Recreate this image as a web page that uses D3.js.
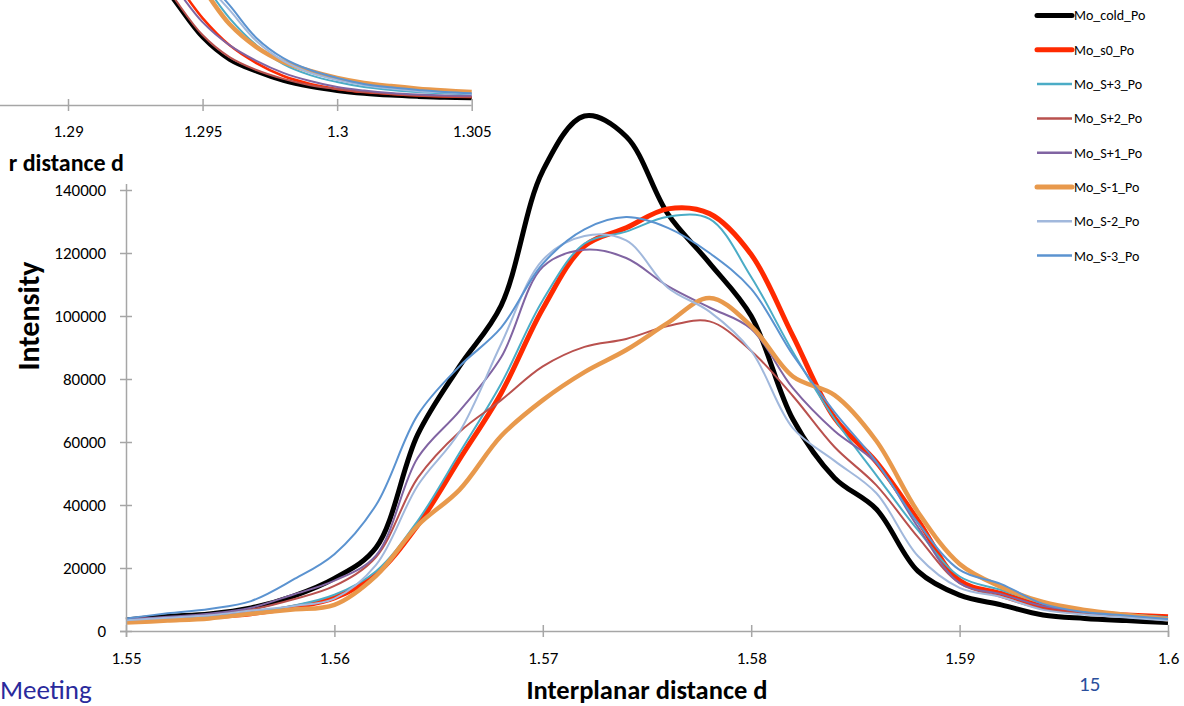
<!DOCTYPE html>
<html>
<head>
<meta charset="utf-8">
<script src="https://d3js.org/d3.v7.min.js"></script>
<style>
	html, body { margin: 0; padding: 0; background: #fff; }
	svg { display: block; font-family: Carlito, Lato, sans-serif; }
</style>
</head>
<body>
<svg id="chart" width="1184" height="706"></svg>
<script>
// Main chart: interplanar distance grid and intensities per series
const dMain = [1.550, 1.552, 1.554, 1.556, 1.558, 1.560, 1.562, 1.564, 1.566, 1.568, 1.570, 1.572, 1.574,
	1.576, 1.578, 1.580, 1.582, 1.584, 1.586, 1.588, 1.590, 1.592, 1.594, 1.596, 1.598, 1.600];

const coldPo = [3500, 4600, 5400, 7300, 11000, 16700, 26500, 62400, 84000, 103300, 146100, 163500, 157000,
	132400, 116800, 100000, 67200, 48600, 38700, 19000, 11400, 8300, 5100, 4000, 3300, 2700];
const s0Po = [3300, 3800, 4500, 5500, 7500, 10500, 18000, 33600, 54500, 75500, 102300, 122200, 128000,
	134000, 132500, 119500, 93700, 67600, 53700, 35200, 16000, 11900, 7900, 5900, 5100, 4500];
const sPlus3Po = [3600, 4100, 4800, 5800, 8000, 11500, 19000, 35000, 56500, 78500, 105000, 123000, 126800,
	131500, 130800, 112400, 88600, 67300, 49500, 32000, 17300, 13000, 8900, 6700, 5400, 4400];
const sPlus2Po = [3500, 4200, 5100, 6800, 10000, 14300, 23500, 48600, 63200, 73300, 84000, 90200, 92700,
	96800, 98300, 88900, 74600, 58400, 46300, 29800, 15200, 10800, 7000, 5600, 4600, 3700];
const sPlus1Po = [3700, 4500, 5500, 7400, 11500, 16000, 24000, 55000, 69800, 86900, 115600, 121000, 118400,
	109500, 102700, 95900, 77100, 63500, 53300, 33000, 15200, 11700, 7900, 6200, 4900, 3500];
const sMinus1Po = [2700, 3300, 4000, 5500, 6800, 8300, 17500, 33500, 44800, 61900, 73300, 82200, 89200,
	97800, 105700, 96800, 80800, 74900, 60400, 37800, 21300, 14000, 9200, 6700, 5100, 3700];
const sMinus2Po = [3400, 4200, 5000, 6500, 7900, 10300, 21000, 46200, 63200, 91100, 117800, 125400, 124000,
	109000, 101400, 88900, 64400, 54000, 43800, 23800, 13700, 10800, 6700, 5200, 4300, 3300];
const sMinus3Po = [4000, 5600, 7000, 9500, 16200, 24400, 40000, 68600, 84000, 96300, 116600, 127500, 131400,
	128000, 120000, 108600, 87600, 69500, 53700, 34300, 19400, 14900, 8600, 6000, 4900, 3800];

// Inset chart (the tail of the neighbouring peak)
const dInset = [1.293, 1.294, 1.295, 1.296, 1.297, 1.298, 1.299, 1.300, 1.301, 1.302, 1.303, 1.304, 1.305];

const coldInset = [44400, 32400, 21300, 14300, 10500, 7600, 5700, 4400, 3500, 2900, 2500, 2200, 2100];
const s0Inset = [49200, 39000, 27600, 19000, 13300, 9200, 6700, 5100, 4100, 3500, 3000, 2700, 2500];
const sPlus3Inset = [60300, 49200, 39000, 27600, 19000, 13000, 9500, 7300, 5700, 4800, 4100, 3700, 3300];
const sPlus2Inset = [46000, 33300, 22200, 15200, 11100, 8300, 6300, 5100, 4100, 3500, 3000, 2700, 2500];
const sPlus1Inset = [47600, 37100, 26300, 19000, 14000, 10200, 7600, 5700, 4600, 3800, 3300, 3000, 2900];
const sMinus1Inset = [58700, 47600, 37100, 25700, 18400, 13700, 10800, 8600, 7000, 6000, 5200, 4600, 4100];
const sMinus2Inset = [61900, 50800, 39700, 30200, 20300, 14000, 10200, 7900, 6300, 5200, 4400, 4000, 3500];
const sMinus3Inset = [63500, 52400, 41300, 31700, 21300, 14900, 11100, 8600, 6700, 5600, 4800, 4100, 3700];

const yTicks = [0, 20000, 40000, 60000, 80000, 100000, 120000, 140000];
const xTicksMain = [1.55, 1.56, 1.57, 1.58, 1.59, 1.6];
const xTicksInset = [1.29, 1.295, 1.3, 1.305];

// Series styling (drawing order = legend order)
const series = [
	{ name: 'Mo_cold_Po', main: coldPo, inset: coldInset, color: '#000000', width: 5, insetWidth: 3.5 },
	{ name: 'Mo_s0_Po', main: s0Po, inset: s0Inset, color: '#ff2a00', width: 5, insetWidth: 2.5 },
	{ name: 'Mo_S+3_Po', main: sPlus3Po, inset: sPlus3Inset, color: '#4bacc6', width: 2, insetWidth: 2 },
	{ name: 'Mo_S+2_Po', main: sPlus2Po, inset: sPlus2Inset, color: '#b9514e', width: 2, insetWidth: 2 },
	{ name: 'Mo_S+1_Po', main: sPlus1Po, inset: sPlus1Inset, color: '#8064a2', width: 2, insetWidth: 2 },
	{ name: 'Mo_S-1_Po', main: sMinus1Po, inset: sMinus1Inset, color: '#e8994c', width: 4.5, insetWidth: 4.5 },
	{ name: 'Mo_S-2_Po', main: sMinus2Po, inset: sMinus2Inset, color: '#a1b8dc', width: 2, insetWidth: 2 },
	{ name: 'Mo_S-3_Po', main: sMinus3Po, inset: sMinus3Inset, color: '#5b93d0', width: 2, insetWidth: 2 }
];

const svg = d3.select('#chart');
const axisColor = '#a6a6a6';
const tickFont = '17px';
const curve = d3.curveCatmullRom.alpha(0.5);

// ---- Main chart ----
const x = d3.scaleLinear().domain([1.55, 1.6]).range([126, 1168]);
const y = d3.scaleLinear().domain([0, 160000]).range([631, 127]);

const main = svg.append('g');

const line = d3.line()
	.x((d, i) => x(dMain[i]))
	.y(d => y(d))
	.curve(curve);

main.selectAll('path.series')
	.data(series)
.join('path')
	.attr('class', 'series')
	.attr('fill', 'none')
	.attr('stroke', d => d.color)
	.attr('stroke-width', d => d.width)
	.attr('stroke-linejoin', 'round')
	.attr('d', d => line(d.main));

// Y axis with ticks crossing the line
const yAxis = main.append('g')
	.attr('transform', 'translate(126,0)')
	.call(d3.axisLeft(y).tickValues(yTicks).tickSizeOuter(0).tickSize(6).tickPadding(14).tickFormat(d3.format('d')));
yAxis.select('.domain').attr('stroke', axisColor).attr('stroke-width', 1.5);
yAxis.selectAll('.tick line').attr('stroke', axisColor).attr('stroke-width', 1.5).attr('x1', 6).attr('x2', -6);
yAxis.selectAll('.tick text').attr('fill', '#000').style('font-size', tickFont).style('font-family', 'Carlito, Lato, sans-serif');

// X axis
const xAxis = main.append('g')
	.attr('transform', 'translate(0,631)')
	.call(d3.axisBottom(x).tickValues(xTicksMain).tickSizeOuter(0).tickSize(6).tickPadding(15).tickFormat(d => String(d)));
xAxis.select('.domain').attr('stroke', axisColor).attr('stroke-width', 1.5);
xAxis.selectAll('.tick line').attr('stroke', axisColor).attr('stroke-width', 1.5).attr('y1', -6).attr('y2', 6);
xAxis.selectAll('.tick text').attr('fill', '#000').style('font-size', tickFont).style('font-family', 'Carlito, Lato, sans-serif');

// Axis titles
main.append('text')
	.attr('x', 647).attr('y', 699)
	.attr('text-anchor', 'middle')
	.style('font-weight', 'bold').style('font-size', '26.5px')
	.text('Interplanar distance d');

main.append('text')
	.attr('transform', 'translate(39,316) rotate(-90)')
	.attr('text-anchor', 'middle')
	.style('font-weight', 'bold').style('font-size', '30px')
	.text('Intensity');

// ---- Inset chart (covers the top-left of the main plot) ----
const inset = svg.append('g');
inset.append('rect')
	.attr('x', 0).attr('y', 0).attr('width', 496).attr('height', 184)
	.attr('fill', '#fff');

const xi = d3.scaleLinear().domain([1.29, 1.305]).range([68, 471.7]);
const yi = d3.scaleLinear().domain([0, 40000]).range([105, -21]);

const lineInset = d3.line()
	.x((d, i) => xi(dInset[i]))
	.y(d => yi(d))
	.curve(curve);

const defs = svg.append('defs');
defs.append('clipPath').attr('id', 'insetClip')
	.append('rect').attr('x', 0).attr('y', 0).attr('width', 472).attr('height', 105);
// the inset picture was cropped, so its axis title only shows from x = 9 on
defs.append('clipPath').attr('id', 'insetTitleClip')
	.append('rect').attr('x', 9).attr('y', 120).attr('width', 200).attr('height', 64);

inset.append('g').attr('clip-path', 'url(#insetClip)')
	.selectAll('path')
	.data(series)
.join('path')
	.attr('fill', 'none')
	.attr('stroke', d => d.color)
	.attr('stroke-width', d => d.insetWidth)
	.attr('d', d => lineInset(d.inset));

const xiAxis = inset.append('g')
	.attr('transform', 'translate(0,105)')
	.call(d3.axisBottom(xi).tickValues(xTicksInset).tickSizeOuter(0).tickSize(6).tickPadding(14).tickFormat(d => String(d)));
xiAxis.select('.domain').attr('stroke', axisColor).attr('stroke-width', 1.5)
	.attr('d', 'M0,0.5H' + xi(1.305));
xiAxis.selectAll('.tick line').attr('stroke', axisColor).attr('stroke-width', 1.5).attr('y1', -6).attr('y2', 6);
xiAxis.selectAll('.tick text').attr('fill', '#000').style('font-size', tickFont).style('font-family', 'Carlito, Lato, sans-serif');

inset.append('text')
	.attr('x', 124).attr('y', 171)
	.attr('text-anchor', 'end')
	.attr('clip-path', 'url(#insetTitleClip)')
	.style('font-weight', 'bold').style('font-size', '24px')
	.text('Interplanar distance d');

// ---- Legend ----
const legend = svg.append('g');
const legendRows = legend.selectAll('g')
	.data(series)
.join('g')
	.attr('transform', (d, i) => 'translate(0,' + (15.5 + i * 34.3) + ')');

legendRows.append('line')
	.attr('x1', 1037).attr('x2', 1072)
	.attr('y1', 0).attr('y2', 0)
	.attr('stroke', d => d.color)
	.attr('stroke-width', d => d.width > 3 ? 5 : 2.5)
	.attr('stroke-linecap', d => d.width > 3 ? 'round' : 'butt');

legendRows.append('text')
	.attr('x', 1074).attr('y', 0)
	.attr('dy', '0.35em')
	.style('font-size', '14px')
	.text(d => d.name);

// ---- Slide footer ----
svg.append('text')
	.attr('x', 0).attr('y', 699)
	.attr('fill', '#2a2a9c')
	.style('font-size', '27px')
	.text('Meeting');

svg.append('text')
	.attr('x', 1079).attr('y', 691)
	.attr('fill', '#2a4f9c')
	.style('font-size', '21px')
	.text('15');
</script>
</body>
</html>
